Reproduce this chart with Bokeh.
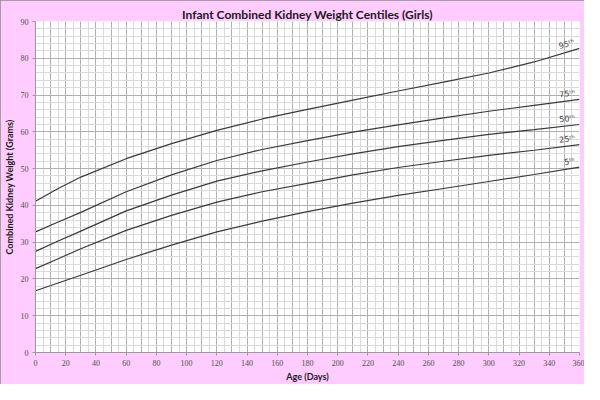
import math
from bokeh.plotting import figure
from bokeh.models import Range1d, SingleIntervalTicker, FixedTicker, ColumnDataSource
from bokeh.core.properties import value
from bokeh.embed import file_html
from bokeh.resources import INLINE

# ---- data ----
days = [0, 15, 30, 60, 90, 120, 150, 180, 210, 240, 270, 300, 330, 360]
c95 = [41.1, 44.6, 47.7, 52.7, 56.8, 60.4, 63.5, 66.1, 68.6, 71.1, 73.5, 76.0, 79.0, 82.7]
c75 = [32.8, 35.5, 38.1, 43.7, 48.3, 52.2, 55.2, 57.6, 59.9, 61.9, 63.8, 65.6, 67.2, 68.8]
c50 = [27.5, 30.3, 33.0, 38.5, 42.8, 46.6, 49.4, 51.8, 54.0, 56.0, 57.7, 59.3, 60.6, 62.0]
c25 = [22.8, 25.5, 28.2, 33.2, 37.3, 40.9, 43.7, 46.0, 48.3, 50.3, 52.0, 53.6, 55.0, 56.5]
c5 = [16.8, 18.9, 21.0, 25.3, 29.2, 32.8, 35.7, 38.3, 40.6, 42.7, 44.6, 46.5, 48.4, 50.4]
centile_labels = ["95ᵗʰ", "75ᵗʰ", "50ᵗʰ", "25ᵗʰ", "5ᵗʰ"]
series = [c95, c75, c50, c25, c5]
x_ticks = list(range(0, 361, 20))
y_ticks = list(range(0, 91, 10))

title = "Infant Combined Kidney Weight Centiles (Girls)"
x_label = "Age (Days)"
y_label = "Combined Kidney Weight (Grams)"

# ---- layout ----
W, H = 584, 384
ML, MR, MT, MB = 27, 5, 21, 27
FW, FH = W - ML - MR, H - MT - MB
PINK = "#FFCCFF"
LINE = "#3a3a3a"

p = figure(width=W, height=H, output_backend="svg", toolbar_location=None,
           x_range=Range1d(0, 360), y_range=Range1d(0, 90),
           min_border_left=ML, min_border_right=MR,
           min_border_top=MT, min_border_bottom=MB,
           background_fill_color="white", border_fill_color=PINK,
           outline_line_color=None)
p.styles = {"outline": "1px solid #8c8c8c", "outline-offset": "-1px"}

p.title.text = title
p.title.align = "center"
p.title.text_font = "Lato"
p.title.text_font_style = "bold"
p.title.text_font_size = "12px"
p.title.text_color = "#1a1a1a"
p.title.standoff = 0
p.title.offset = 0

# grids
p.xgrid.ticker = SingleIntervalTicker(interval=10, num_minor_ticks=2)
p.ygrid.ticker = SingleIntervalTicker(interval=10, num_minor_ticks=5)
for g in (p.xgrid[0], p.ygrid[0]):
    g.grid_line_color = "#b0b0b0"
    g.grid_line_width = 1
    g.minor_grid_line_color = "#dadada"
    g.minor_grid_line_width = 1

# axes
p.xaxis.ticker = FixedTicker(ticks=x_ticks)
p.yaxis.ticker = FixedTicker(ticks=y_ticks)
for ax in (p.xaxis[0], p.yaxis[0]):
    ax.axis_line_color = "#9a9a9a"
    ax.major_tick_line_color = "#9a9a9a"
    ax.major_tick_out = 3
    ax.major_tick_in = 0
    ax.minor_tick_line_color = None
    ax.major_label_text_font = "Liberation Serif"
    ax.major_label_text_font_size = "8px"
    ax.major_label_text_color = "#505050"
    ax.axis_label_text_font = "Lato"
    ax.axis_label_text_font_style = "bold"
    ax.axis_label_text_font_size = "9px"
    ax.axis_label_text_color = "#1a1a1a"
p.xaxis.axis_label = x_label
p.yaxis.axis_label = y_label
p.xaxis.major_label_standoff = 4
p.yaxis.major_label_standoff = 4
p.xaxis.axis_label_standoff = 2
p.yaxis.axis_label_standoff = 3

# curves
px_day = FW / 360.0
px_unit = FH / 90.0
for vals, lab in zip(series, centile_labels):
    src = ColumnDataSource(dict(x=days, y=vals))
    p.line("x", "y", source=src, line_color=LINE, line_width=1.2)
    dy = (vals[-1] - vals[-2]) * px_unit
    dx = (days[-1] - days[-2]) * px_day
    ang = math.atan2(dy, dx)
    p.text(x=[days[-1]], y=[vals[-1]], text=[lab], angle=ang,
           text_align="right", text_baseline="bottom",
           x_offset=-4, y_offset=-2,
           text_font=value("DejaVu Sans"), text_font_size="8px",
           text_color="#404040")

open("out.html", "w").write(file_html(p, INLINE))
